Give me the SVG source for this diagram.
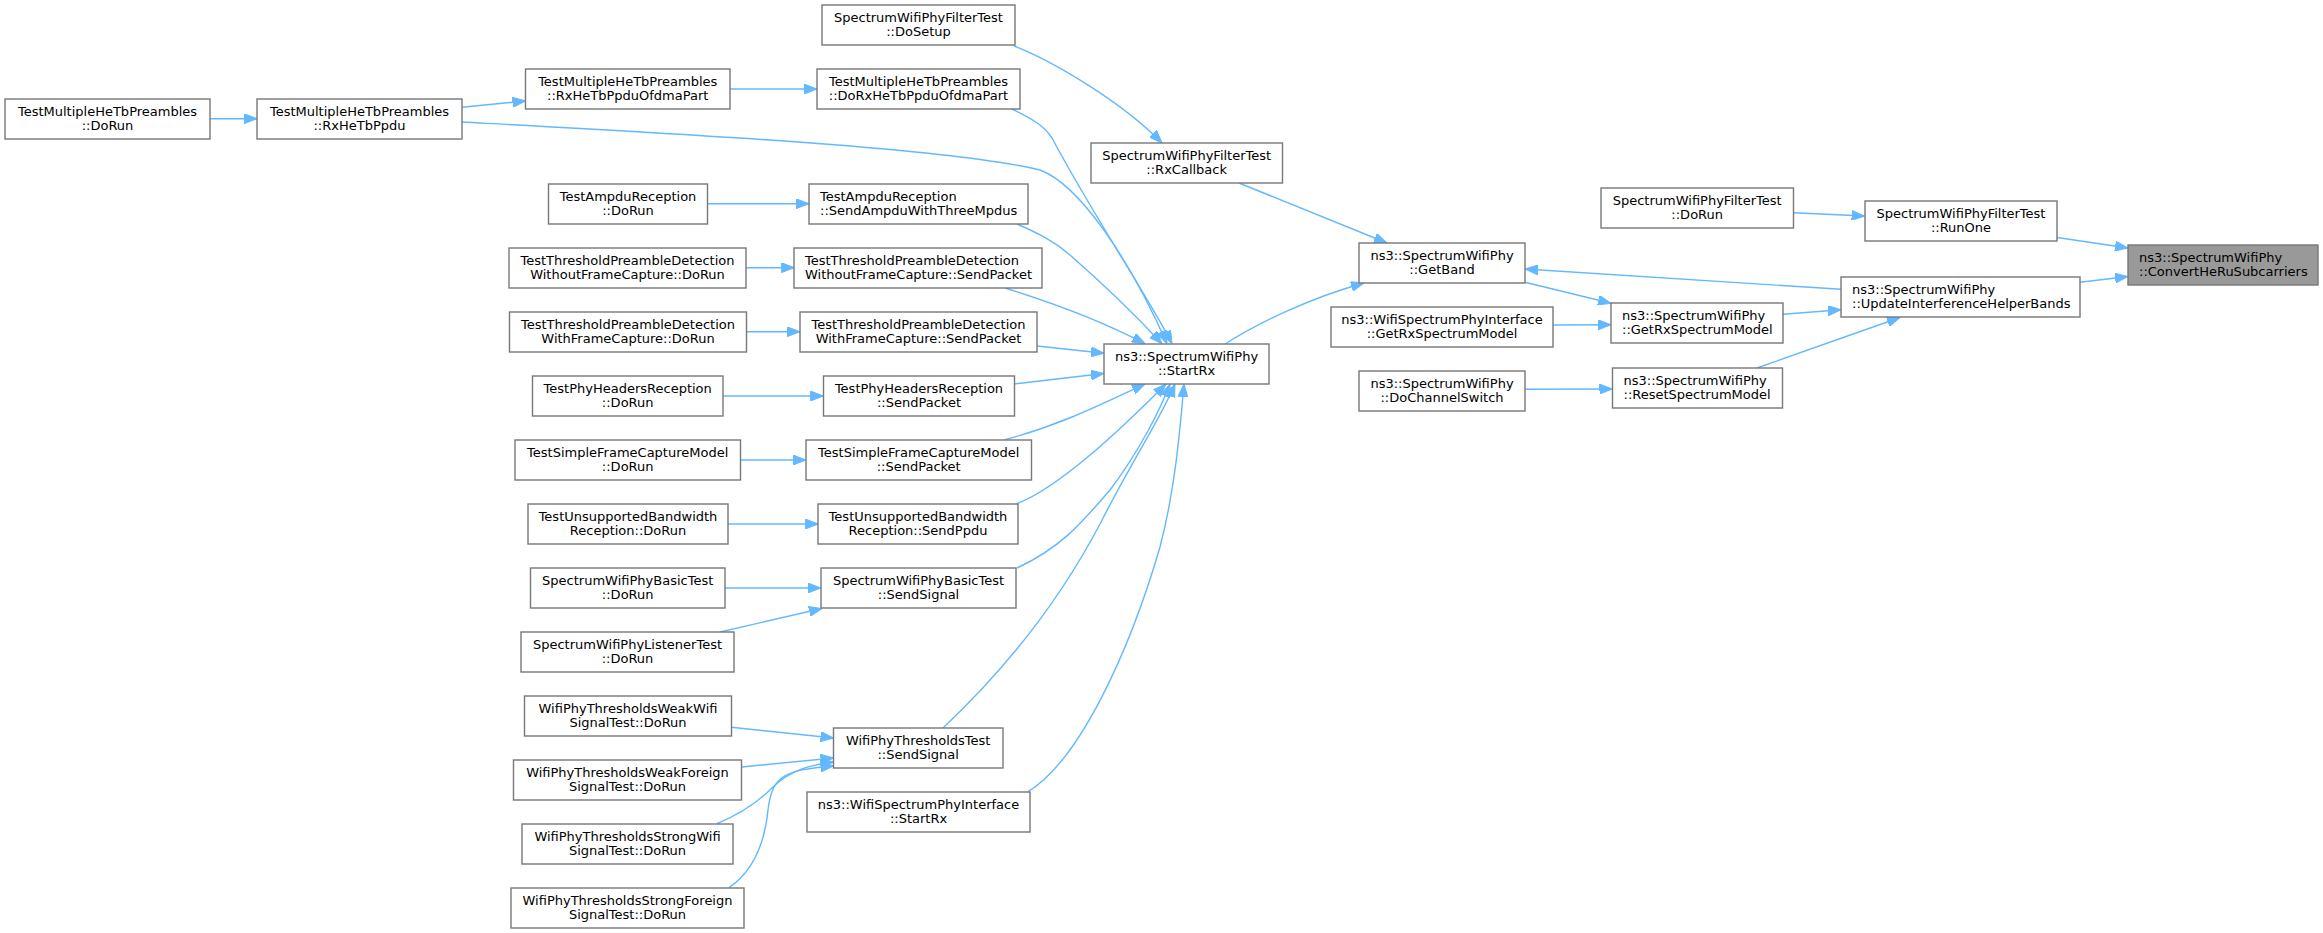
<svg xmlns="http://www.w3.org/2000/svg" width="2323" height="933" viewBox="0 0 2323 933">
<style>
.n rect{fill:#ffffff;stroke:#777777;stroke-width:1.4}
.n.t rect{fill:#999999}
.n text{font-family:"DejaVu Sans","Liberation Sans",sans-serif;font-size:13px;fill:#000000;text-anchor:middle}
.n text.l{text-anchor:start}
.e path{fill:none;stroke:#63b8ff;stroke-width:1.4;marker-end:url(#ah)}
</style>
<defs>
<marker id="ah" markerUnits="userSpaceOnUse" markerWidth="13" markerHeight="10" refX="13" refY="5" orient="auto" viewBox="0 0 13 10">
<path d="M0,0 L13,5 L0,10 z" fill="#63b8ff" stroke="#63b8ff" stroke-width="1"/>
</marker>
</defs>
<rect width="2323" height="933" fill="#ffffff"/>
<g id="edges" class="e">
<path d="M210,118.7 L257,118.7"/>
<path d="M462,107.3 L525.5,101"/>
<path d="M730,89 L817,89"/>
<path d="M462,122 C700,135 950,148 1040,170 C1080,185 1130,260 1167,343.7"/>
<path d="M1012,109 C1035,120 1045,127 1052,138 C1090,210 1150,300 1172,343.7"/>
<path d="M1017,224 C1040,234 1055,242 1070,255 C1110,290 1140,320 1162,343.7"/>
<path d="M1005,288 C1050,302 1100,320 1145,343.7"/>
<path d="M1037,346 L1104,353.3"/>
<path d="M1014,384 L1104,373.5"/>
<path d="M1005,439.7 C1060,425 1100,405 1145,384"/>
<path d="M1017,503.7 C1060,487 1120,430 1166,384"/>
<path d="M1017,568 C1060,548 1080,525 1110,490 C1140,450 1160,410 1170,384"/>
<path d="M943,728 C1010,665 1060,600 1100,524 C1135,455 1160,420 1175,384"/>
<path d="M1028,791.7 C1080,760 1130,650 1160,547 C1175,490 1180,430 1184,384"/>
<path d="M1014,46 C1050,60 1120,100 1162,143"/>
<path d="M1239,183 L1387,243"/>
<path d="M1225,344 C1260,322 1310,298 1364,283"/>
<path d="M1525,282.3 L1611,303.3"/>
<path d="M1553,325 L1611,324.7"/>
<path d="M1783,314.3 L1841,309.7"/>
<path d="M1841,289.3 L1525,269"/>
<path d="M1525,389.3 L1612.5,389"/>
<path d="M1757,368 L1900,317.5"/>
<path d="M2080,282.3 L2128,276.5"/>
<path d="M2057,237.5 L2128,248"/>
<path d="M1793.6,212.7 L1864.6,216"/>
<path d="M708,203.7 L809,203.7"/>
<path d="M746.4,267.7 L794.3,267.7"/>
<path d="M746.3,331.7 L800,331.7"/>
<path d="M723,396 L823.4,396"/>
<path d="M740.7,460 L806,460"/>
<path d="M728,524 L818.3,524"/>
<path d="M725,588 L820.8,588"/>
<path d="M720,632 L822,608.5"/>
<path d="M731.5,727.3 L833.6,738"/>
<path d="M741.7,767 L833.6,758"/>
<path d="M717,823.7 C745,812 760,800 772,788 C790,770 810,765 833.6,762"/>
<path d="M729,887.7 C755,870 765,840 768,810 C772,775 785,770 833.6,766"/>
</g>
<g id="n1" class="n"><rect x="5" y="99" width="205" height="40"/><text x="107.5" y="116">TestMultipleHeTbPreambles</text><text x="107.5" y="130">::DoRun</text></g>
<g id="n2" class="n"><rect x="257" y="99" width="205" height="40"/><text x="359.5" y="116">TestMultipleHeTbPreambles</text><text x="359.5" y="130">::RxHeTbPpdu</text></g>
<g id="n3" class="n"><rect x="525.5" y="69" width="204.5" height="40"/><text x="627.7" y="86">TestMultipleHeTbPreambles</text><text x="627.7" y="100">::RxHeTbPpduOfdmaPart</text></g>
<g id="n4" class="n"><rect x="548.5" y="184" width="159" height="40"/><text x="628" y="201">TestAmpduReception</text><text x="628" y="215">::DoRun</text></g>
<g id="n5" class="n"><rect x="509" y="248" width="237" height="40"/><text x="627.5" y="265">TestThresholdPreambleDetection</text><text x="627.5" y="279">WithoutFrameCapture::DoRun</text></g>
<g id="n6" class="n"><rect x="822" y="5" width="193" height="40"/><text x="918.5" y="22">SpectrumWifiPhyFilterTest</text><text x="918.5" y="36">::DoSetup</text></g>
<g id="n7" class="n"><rect x="817" y="69" width="203" height="40"/><text x="918.5" y="86">TestMultipleHeTbPreambles</text><text x="918.5" y="100">::DoRxHeTbPpduOfdmaPart</text></g>
<g id="n8" class="n"><rect x="1091" y="143" width="191.5" height="40"/><text x="1186.7" y="160">SpectrumWifiPhyFilterTest</text><text x="1186.7" y="174">::RxCallback</text></g>
<g id="n9" class="n"><rect x="809" y="184" width="219" height="40"/><text class="l" x="820" y="201">TestAmpduReception</text><text class="l" x="820" y="215">::SendAmpduWithThreeMpdus</text></g>
<g id="n10" class="n"><rect x="794" y="248" width="248" height="40"/><text class="l" x="805" y="265">TestThresholdPreambleDetection</text><text class="l" x="805" y="279">WithoutFrameCapture::SendPacket</text></g>
<g id="n11" class="n"><rect x="1359" y="243" width="166" height="40"/><text x="1442" y="260">ns3::SpectrumWifiPhy</text><text x="1442" y="274">::GetBand</text></g>
<g id="n12" class="n"><rect x="1331" y="307" width="222" height="40"/><text x="1442" y="324">ns3::WifiSpectrumPhyInterface</text><text x="1442" y="338">::GetRxSpectrumModel</text></g>
<g id="n13" class="n"><rect x="1611" y="303" width="172" height="40"/><text class="l" x="1622" y="320">ns3::SpectrumWifiPhy</text><text class="l" x="1622" y="334">::GetRxSpectrumModel</text></g>
<g id="n14" class="n"><rect x="1359" y="371" width="166" height="40"/><text x="1442" y="388">ns3::SpectrumWifiPhy</text><text x="1442" y="402">::DoChannelSwitch</text></g>
<g id="n15" class="n"><rect x="1612.5" y="368" width="170" height="40"/><text class="l" x="1623.5" y="385">ns3::SpectrumWifiPhy</text><text class="l" x="1623.5" y="399">::ResetSpectrumModel</text></g>
<g id="n16" class="n"><rect x="1601" y="188" width="192.5" height="40"/><text x="1697.2" y="205">SpectrumWifiPhyFilterTest</text><text x="1697.2" y="219">::DoRun</text></g>
<g id="n17" class="n"><rect x="1865" y="201" width="192" height="40"/><text x="1961" y="218">SpectrumWifiPhyFilterTest</text><text x="1961" y="232">::RunOne</text></g>
<g id="n18" class="n t"><rect x="2128" y="245" width="190" height="40"/><text class="l" x="2139" y="262">ns3::SpectrumWifiPhy</text><text class="l" x="2139" y="276">::ConvertHeRuSubcarriers</text></g>
<g id="n19" class="n"><rect x="1841" y="277" width="239" height="40"/><text class="l" x="1852" y="294">ns3::SpectrumWifiPhy</text><text class="l" x="1852" y="308">::UpdateInterferenceHelperBands</text></g>
<g id="n20" class="n"><rect x="509.5" y="312" width="237" height="40"/><text x="628" y="329">TestThresholdPreambleDetection</text><text x="628" y="343">WithFrameCapture::DoRun</text></g>
<g id="n21" class="n"><rect x="800" y="312" width="237" height="40"/><text x="918.5" y="329">TestThresholdPreambleDetection</text><text x="918.5" y="343">WithFrameCapture::SendPacket</text></g>
<g id="n22" class="n"><rect x="1104" y="344" width="165" height="40"/><text x="1186.5" y="361">ns3::SpectrumWifiPhy</text><text x="1186.5" y="375">::StartRx</text></g>
<g id="n23" class="n"><rect x="532.5" y="376" width="190.5" height="40"/><text x="627.7" y="393">TestPhyHeadersReception</text><text x="627.7" y="407">::DoRun</text></g>
<g id="n24" class="n"><rect x="823.5" y="376" width="191" height="40"/><text x="919" y="393">TestPhyHeadersReception</text><text x="919" y="407">::SendPacket</text></g>
<g id="n25" class="n"><rect x="515" y="440" width="225.5" height="40"/><text x="627.7" y="457">TestSimpleFrameCaptureModel</text><text x="627.7" y="471">::DoRun</text></g>
<g id="n26" class="n"><rect x="806" y="440" width="225.5" height="40"/><text x="918.7" y="457">TestSimpleFrameCaptureModel</text><text x="918.7" y="471">::SendPacket</text></g>
<g id="n27" class="n"><rect x="528" y="504" width="200" height="40"/><text x="628" y="521">TestUnsupportedBandwidth</text><text x="628" y="535">Reception::DoRun</text></g>
<g id="n28" class="n"><rect x="818" y="504" width="200" height="40"/><text x="918" y="521">TestUnsupportedBandwidth</text><text x="918" y="535">Reception::SendPpdu</text></g>
<g id="n29" class="n"><rect x="530.5" y="568" width="194.5" height="40"/><text x="627.7" y="585">SpectrumWifiPhyBasicTest</text><text x="627.7" y="599">::DoRun</text></g>
<g id="n30" class="n"><rect x="821" y="568" width="195" height="40"/><text x="918.5" y="585">SpectrumWifiPhyBasicTest</text><text x="918.5" y="599">::SendSignal</text></g>
<g id="n31" class="n"><rect x="521" y="632" width="213" height="40"/><text x="627.5" y="649">SpectrumWifiPhyListenerTest</text><text x="627.5" y="663">::DoRun</text></g>
<g id="n32" class="n"><rect x="524.5" y="696" width="207" height="40"/><text x="628" y="713">WifiPhyThresholdsWeakWifi</text><text x="628" y="727">SignalTest::DoRun</text></g>
<g id="n33" class="n"><rect x="833.5" y="728" width="169.5" height="40"/><text x="918.2" y="745">WifiPhyThresholdsTest</text><text x="918.2" y="759">::SendSignal</text></g>
<g id="n34" class="n"><rect x="513.5" y="760" width="228" height="40"/><text x="627.5" y="777">WifiPhyThresholdsWeakForeign</text><text x="627.5" y="791">SignalTest::DoRun</text></g>
<g id="n35" class="n"><rect x="807" y="792" width="223" height="40"/><text x="918.5" y="809">ns3::WifiSpectrumPhyInterface</text><text x="918.5" y="823">::StartRx</text></g>
<g id="n36" class="n"><rect x="522" y="824" width="211" height="40"/><text x="627.5" y="841">WifiPhyThresholdsStrongWifi</text><text x="627.5" y="855">SignalTest::DoRun</text></g>
<g id="n37" class="n"><rect x="511" y="888" width="233" height="40"/><text x="627.5" y="905">WifiPhyThresholdsStrongForeign</text><text x="627.5" y="919">SignalTest::DoRun</text></g>
</svg>
